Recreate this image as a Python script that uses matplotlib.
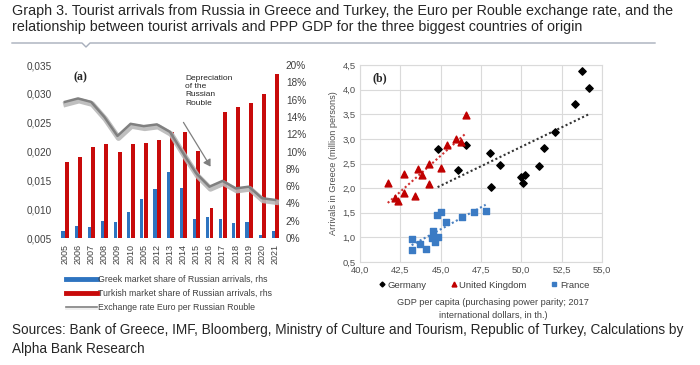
import matplotlib
matplotlib.use("Agg")
import matplotlib.pyplot as plt
import matplotlib.patheffects as pe
from matplotlib.lines import Line2D
import numpy as np

plt.rcParams['font.family'] = ['Liberation Sans', 'DejaVu Sans']

# ---------------- data: panel (a) ----------------
years = ['2005', '2006', '2007', '2008', '2009', '2010', '2005', '2012', '2013',
         '2014', '2015', '2016', '2017', '2018', '2019', '2020', '2021']
greek_share = [0.81, 1.39, 1.23, 1.96, 1.81, 3.04, 4.5, 5.7, 7.6, 5.74, 2.2,
               2.46, 2.2, 1.77, 1.89, 0.35, 0.84]          # % (rhs)
turkish_share = [8.82, 9.4, 10.56, 10.9, 9.98, 10.87, 11.0, 11.35, 12.3, 12.2,
                 10.1, 3.43, 14.6, 15.2, 15.6, 16.7, 19.0]  # % (rhs)
eur_rub = [0.0286, 0.0292, 0.0286, 0.0260, 0.0227, 0.0248, 0.0244, 0.0247,
           0.0234, 0.0197, 0.0162, 0.0139, 0.0149, 0.0136, 0.0139, 0.0119, 0.0116]

# ---------------- data: panel (b) ----------------
ger_gdp = [44.81, 46.08, 46.6, 48.08, 48.14, 48.70, 49.99, 50.2, 50.1, 51.08,
           51.43, 52.11, 53.35, 53.76, 54.17]
ger_arr = [2.79, 2.37, 2.87, 2.72, 2.03, 2.47, 2.23, 2.26, 2.11, 2.45,
           2.81, 3.14, 3.71, 4.38, 4.03]
uk_gdp = [41.72, 42.75, 42.17, 42.38, 42.75, 43.41, 43.61, 43.82, 44.29, 44.29,
          44.99, 45.40, 45.92, 46.23, 46.6]
uk_arr = [2.11, 2.28, 1.79, 1.74, 1.90, 1.84, 2.39, 2.26, 2.50, 2.08,
          2.40, 2.87, 2.99, 2.94, 3.48]
fr_gdp = [43.2, 43.24, 43.72, 44.07, 44.54, 44.48, 44.64, 44.85, 44.75, 45.01,
          45.36, 46.33, 47.05, 47.79]
fr_arr = [0.96, 0.75, 0.86, 0.77, 1.12, 0.98, 0.91, 1.00, 1.45, 1.52,
          1.32, 1.42, 1.52, 1.54]

W, H = 700, 365
fig = plt.figure(figsize=(W / 100, H / 100), dpi=100)


def fx(px):
    return px / W


def fy(py):
    return 1 - py / H


txt = '#262626'
tick_col = '#404040'

# ---------------- title & rule ----------------
fig.text(fx(12), fy(4),
         "Graph 3. Tourist arrivals from Russia in Greece and Turkey, the Euro per Rouble exchange rate, and the\n"
         "relationship between tourist arrivals and PPP GDP for the three biggest countries of origin",
         ha='left', va='top', fontsize=10.3, color=txt, linespacing=1.22)
rx = [12, 82, 86, 90, 655]
ry = [43, 43, 47, 43, 43]
fig.add_artist(Line2D([fx(v) for v in rx], [fy(v) for v in ry],
                      color='#A7AEBB', lw=1.0, transform=fig.transFigure))

fig.text(fx(12), fy(323),
         "Sources: Bank of Greece, IMF, Bloomberg, Ministry of Culture and Tourism, Republic of Turkey, Calculations by\n"
         "Alpha Bank Research",
         ha='left', va='top', fontsize=9.85, color=txt, linespacing=1.5)

# ---------------- panel (a) ----------------
ax = fig.add_axes([fx(57), fy(238), (283 - 57) / W, (238 - 65) / H])
x = np.arange(len(years))
blue = '#2E74C0'
red = '#C80A0A'
ax.bar(x - 0.14, np.array(greek_share) / 100, width=0.24, color=blue, zorder=2)
ax.bar(x + 0.16, np.array(turkish_share) / 100, width=0.30, color=red, zorder=2)
ax.set_xlim(-0.6, len(years) - 0.4)
ax.set_ylim(0, 0.20)
ax.set_yticks(np.arange(0, 0.201, 0.02))
ax.set_yticklabels([f"{int(round(v * 100))}%" for v in np.arange(0, 0.201, 0.02)])
ax.set_xticks(x)
ax.set_xticklabels(years, rotation=90, fontsize=6.5, color=tick_col)
ax.tick_params(axis='x', length=0, pad=4)
for s in ax.spines.values():
    s.set_visible(False)

ax2 = ax.twinx()
ax.yaxis.tick_right()
ax2.yaxis.tick_left()
ax.tick_params(axis='y', length=0, pad=2, labelsize=7.2, labelcolor=tick_col)
ax2.set_ylim(0.005, 0.035)
yt = np.arange(0.005, 0.0351, 0.005)
ax2.set_yticks(yt)
ax2.set_yticklabels([f"{v:.3f}".replace('.', ',') for v in yt])
ax2.tick_params(axis='y', length=0, pad=4, labelsize=7.2, labelcolor=tick_col)
for s in ax2.spines.values():
    s.set_visible(False)
shadow = [pe.SimpleLineShadow(offset=(0.8, -1.6), shadow_color='#b8b8b8', alpha=0.9, linewidth=4.0),
          pe.Normal()]
ax2.plot(x, eur_rub, color='#808080', lw=1.8, solid_joinstyle='round',
         path_effects=shadow, zorder=3)

fig.text(fx(80), fy(77), "(a)", family='Liberation Serif', fontweight='bold',
         fontsize=8.5, color=txt, ha='center', va='center')
fig.text(fx(185), fy(75), "Depreciation\nof the\nRussian\nRouble", fontsize=6,
         color=txt, ha='left', va='top', linespacing=1.25)
fig.add_artist(matplotlib.patches.FancyArrowPatch(
    (fx(182), fy(120)), (fx(212), fy(169)), transform=fig.transFigure,
    arrowstyle='-|>,head_length=4,head_width=2.5', color='#7f7f7f', lw=0.9))

leg_handles = [Line2D([], [], color=blue, lw=3.5),
               Line2D([], [], color=red, lw=3.5),
               Line2D([], [], color='#808080', lw=1.2,
                      path_effects=[pe.SimpleLineShadow(offset=(0, -1), shadow_color='#c0c0c0'), pe.Normal()])]
leg_labels = ["Greek market share of Russian arrivals, rhs",
              "Turkish market share of Russian arrivals, rhs",
              "Exchange rate Euro per Russian Rouble"]
fig.legend(leg_handles, leg_labels, loc='upper left', bbox_to_anchor=(fx(66), fy(275)),
           frameon=False, fontsize=6.3, labelcolor='#404040', handlelength=3.5,
           handletextpad=0.2, labelspacing=0.6, borderaxespad=0, borderpad=0)

# ---------------- panel (b) ----------------
bx = fig.add_axes([fx(360), fy(262), (602 - 360) / W, (262 - 65) / H])
bx.set_xlim(40, 55)
bx.set_ylim(0.5, 4.5)
xt = np.arange(40, 55.01, 2.5)
ytb = np.arange(0.5, 4.51, 0.5)
bx.set_xticks(xt)
bx.set_xticklabels([f"{v:.1f}".replace('.', ',') for v in xt])
bx.set_yticks(ytb)
bx.set_yticklabels([f"{v:.1f}".replace('.', ',') for v in ytb])
bx.grid(True, color='#DADADA', lw=0.8)
bx.set_axisbelow(True)
for s in bx.spines.values():
    s.set_color('#DADADA')
    s.set_linewidth(0.8)
bx.tick_params(length=0, labelsize=6.8, labelcolor='#505050', pad=3)

ger_c, uk_c, fr_c = '#000000', '#C00000', '#3B7BC4'
for gx, gy, c, ls_c in [(ger_gdp, ger_arr, ger_c, '#333333'),
                        (uk_gdp, uk_arr, uk_c, '#D03030'),
                        (fr_gdp, fr_arr, fr_c, '#4A80C0')]:
    k, b = np.polyfit(gx, gy, 1)
    xs = np.array([min(gx), max(gx)])
    bx.plot(xs, k * xs + b, ls=(0, (1, 1.2)), color=ls_c, lw=1.5, zorder=2)

bx.scatter(ger_gdp, ger_arr, marker='D', s=14, color=ger_c, zorder=3)
bx.scatter(uk_gdp, uk_arr, marker='^', s=24, color=uk_c, zorder=3)
bx.scatter(fr_gdp, fr_arr, marker='s', s=16, color=fr_c, zorder=3)

bx.set_ylabel("Arrivals in Greece (million persons)", fontsize=6.6, color='#505050', labelpad=3)
fig.text(fx(380), fy(78), "(b)", family='Liberation Serif', fontweight='bold',
         fontsize=8.5, color=txt, ha='center', va='center')

lh = [Line2D([], [], ls='none', marker='D', ms=2.5, color=ger_c),
      Line2D([], [], ls='none', marker='^', ms=3.5, color=uk_c),
      Line2D([], [], ls='none', marker='s', ms=3, color=fr_c)]
fig.legend(lh, ["Germany", "United Kingdom", "France"], loc='center',
           bbox_to_anchor=(fx(484), fy(285)), ncol=3, frameon=False, fontsize=6.8,
           labelcolor='#404040', handlelength=0.6, handletextpad=0.3, columnspacing=2.6,
           borderaxespad=0, borderpad=0)
fig.text(fx(493), fy(309), "GDP per capita (purchasing power parity; 2017\ninternational dollars, in th.)",
         ha='center', va='center', fontsize=6.6, color='#404040', linespacing=1.7)

fig.savefig("out.png", dpi=100)
